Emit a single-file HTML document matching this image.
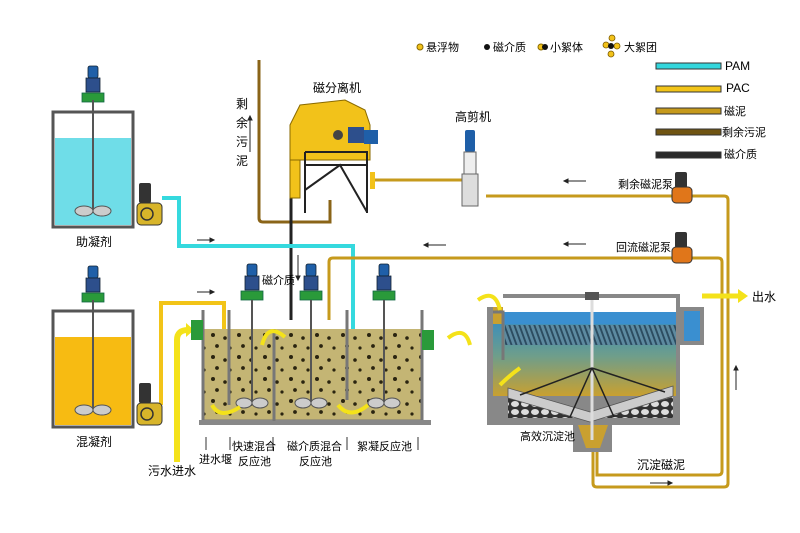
<!DOCTYPE html>
<html><head><meta charset="utf-8"><style>
html,body{margin:0;padding:0;background:#fff;}
svg{display:block;font-family:"Liberation Sans","Noto Sans CJK SC",sans-serif;}
</style></head><body>
<svg width="800" height="533" viewBox="0 0 800 533" xmlns="http://www.w3.org/2000/svg">
<defs>
<linearGradient id="sed" x1="0" y1="0" x2="0" y2="1">
<stop offset="0" stop-color="#3f8fb8"/><stop offset="0.45" stop-color="#6f9e8a"/><stop offset="1" stop-color="#c9a030"/>
</linearGradient>
<pattern id="dots" width="26" height="22" patternUnits="userSpaceOnUse">
<rect width="26" height="22" fill="#c4b574"/>
<circle cx="5" cy="5" r="2" fill="#2a2410"/><circle cx="17" cy="8" r="1.8" fill="#2a2410"/>
<circle cx="9" cy="16" r="1.9" fill="#2a2410"/><circle cx="22" cy="18" r="1.6" fill="#2a2410"/>
</pattern>
<pattern id="hatch" width="5" height="20" patternUnits="userSpaceOnUse" patternTransform="skewX(20)">
<rect width="5" height="20" fill="#5d8aa0"/><rect width="2" height="20" fill="#2c4c60"/>
</pattern>
<pattern id="grav" width="10" height="8" patternUnits="userSpaceOnUse">
<rect width="10" height="8" fill="#333"/><ellipse cx="5" cy="4" rx="4" ry="3" fill="#ddd"/>
</pattern>
<g id="motor">
<rect x="-5" y="0" width="10" height="12" rx="2" fill="#1f5fa8" stroke="#123" stroke-width="0.8"/>
<rect x="-7" y="12" width="14" height="14" fill="#2d4f8c" stroke="#123" stroke-width="0.8"/>
<rect x="-11" y="27" width="22" height="9" fill="#2a9a3a" stroke="#164" stroke-width="0.8"/>
</g>
<g id="pump">
<rect x="0" y="0" width="12" height="20" rx="2" fill="#333"/>
<rect x="-2" y="20" width="25" height="22" rx="4" fill="#d8b52a" stroke="#333" stroke-width="1"/>
<circle cx="8" cy="31" r="6" fill="none" stroke="#333" stroke-width="1.5"/>
</g>
</defs>

<!-- legend dots -->
<circle cx="420" cy="47" r="3" fill="#f2c21a" stroke="#8a6a00"/>
<text x="426" y="51" font-size="11">悬浮物</text>
<circle cx="487" cy="47" r="3" fill="#111"/>
<text x="493" y="51" font-size="11">磁介质</text>
<circle cx="541" cy="47" r="3" fill="#f2c21a" stroke="#8a6a00"/><circle cx="545" cy="47" r="3" fill="#111"/>
<text x="550" y="51" font-size="11">小絮体</text>
<g fill="#f2c21a" stroke="#7a5a00" stroke-width="0.8">
<circle cx="612" cy="38" r="3"/><circle cx="606" cy="45" r="3"/><circle cx="617" cy="46" r="3"/><circle cx="611" cy="54" r="3"/>
</g><circle cx="611" cy="46" r="3" fill="#111"/>
<text x="624" y="51" font-size="11">大絮团</text>
<g stroke="#333" stroke-width="1">
<rect x="656" y="63" width="65" height="6" fill="#33d6dc"/>
<rect x="656" y="86" width="65" height="6" fill="#f2c418"/>
<rect x="656" y="108" width="65" height="6" fill="#c69a1c"/>
<rect x="656" y="129" width="65" height="6" fill="#6f5412"/>
<rect x="656" y="152" width="65" height="6" fill="#2a2a2a"/>
</g>
<text x="725" y="70" font-size="12">PAM</text>
<text x="726" y="92" font-size="12">PAC</text>
<text x="724" y="115" font-size="11">磁泥</text>
<text x="722" y="136" font-size="11">剩余污泥</text>
<text x="724" y="158" font-size="11">磁介质</text>

<!-- pipes -->
<path d="M259 60 V218 Q259 222 263 222 H330 V200" fill="none" stroke="#8a6418" stroke-width="3"/>
<path d="M291 195 V320" stroke="#222" stroke-width="3" fill="none"/>
<path d="M162 198 H179 V246 H353 V398" fill="none" stroke="#35d9de" stroke-width="4"/>
<path d="M161 405 V303 H224 V400" fill="none" stroke="#f2c418" stroke-width="4"/>
<path d="M329 320 V262 Q329 258 333 258 H718 Q722 258 722 262 V471 Q722 475 718 475 H597 V452" fill="none" stroke="#c69a1c" stroke-width="3"/>
<path d="M486 196 H724 Q728 196 728 200 V483 Q728 487 724 487 H597 Q593 487 593 483 V452" fill="none" stroke="#c69a1c" stroke-width="3"/>
<path d="M375 180 H463" stroke="#c69a1c" stroke-width="3"/>

<!-- small arrows -->
<g stroke="#222" stroke-width="1" fill="#222">
<path d="M197 240 H212"/><path d="M214 240 l-4 -2 v4z"/>
<path d="M197 292 H212"/><path d="M214 292 l-4 -2 v4z"/>
<path d="M566 181 H586"/><path d="M564 181 l4 -2 v4z"/>
<path d="M426 245 H446"/><path d="M424 245 l4 -2 v4z"/>
<path d="M566 244 H586"/><path d="M564 244 l4 -2 v4z"/>
<path d="M736 368 V390"/><path d="M736 366 l-2 4 h4z"/>
<path d="M650 483 H670"/><path d="M672 483 l-4 -2 v4z"/>
<path d="M250 118 V152"/><path d="M250 116 l-2 4 h4z"/>
<path d="M298 255 V278"/><path d="M298 280 l-2 -4 h4z"/>
</g>

<!-- tank 1 -->
<rect x="53" y="112" width="80" height="115" fill="#fff" stroke="#555" stroke-width="3"/>
<rect x="55" y="138" width="76" height="87" fill="#6fdde8"/>
<use href="#motor" x="93" y="66"/>
<line x1="93" y1="100" x2="93" y2="212" stroke="#555" stroke-width="2"/>
<ellipse cx="84" cy="211" rx="9" ry="5" fill="#ccc" stroke="#555"/><ellipse cx="102" cy="211" rx="9" ry="5" fill="#ccc" stroke="#555"/>
<use href="#pump" x="139" y="183"/>
<text x="76" y="246" font-size="12">助凝剂</text>

<!-- tank 2 -->
<rect x="53" y="311" width="80" height="116" fill="#fff" stroke="#555" stroke-width="3"/>
<rect x="55" y="337" width="76" height="88" fill="#f7bb12"/>
<use href="#motor" x="93" y="266"/>
<line x1="93" y1="300" x2="93" y2="410" stroke="#555" stroke-width="2"/>
<ellipse cx="84" cy="410" rx="9" ry="5" fill="#ccc" stroke="#555"/><ellipse cx="102" cy="410" rx="9" ry="5" fill="#ccc" stroke="#555"/>
<use href="#pump" x="139" y="383"/>
<text x="76" y="446" font-size="12">混凝剂</text>

<!-- inlet -->
<path d="M177 462 V340 Q177 330 188 330" fill="none" stroke="#f4e21a" stroke-width="6"/>
<path d="M186 323 l8 7 l-8 7z" fill="#f4e21a"/>
<text x="148" y="475" font-size="12">污水进水</text>

<!-- reaction tank -->
<rect x="203" y="329" width="219" height="91" fill="url(#dots)"/>
<path d="M203 310 V421 H422 V310" fill="none" stroke="#777" stroke-width="3"/>
<rect x="199" y="420" width="232" height="5" fill="#888"/>
<line x1="229" y1="310" x2="229" y2="405" stroke="#777" stroke-width="3"/>
<line x1="274" y1="329" x2="274" y2="421" stroke="#777" stroke-width="3"/>
<line x1="347" y1="310" x2="347" y2="400" stroke="#777" stroke-width="3"/>
<rect x="191" y="320" width="12" height="20" fill="#2a9a3a"/>
<rect x="422" y="330" width="12" height="20" fill="#2a9a3a"/>
<g>
<use href="#motor" x="252" y="264"/><line x1="252" y1="300" x2="252" y2="404" stroke="#555" stroke-width="2"/>
<ellipse cx="244" cy="403" rx="8" ry="5" fill="#ccc" stroke="#555"/><ellipse cx="260" cy="403" rx="8" ry="5" fill="#ccc" stroke="#555"/>
<use href="#motor" x="311" y="264"/><line x1="311" y1="300" x2="311" y2="404" stroke="#555" stroke-width="2"/>
<ellipse cx="303" cy="403" rx="8" ry="5" fill="#ccc" stroke="#555"/><ellipse cx="319" cy="403" rx="8" ry="5" fill="#ccc" stroke="#555"/>
<use href="#motor" x="384" y="264"/><line x1="384" y1="300" x2="384" y2="404" stroke="#555" stroke-width="2"/>
<ellipse cx="376" cy="403" rx="8" ry="5" fill="#ccc" stroke="#555"/><ellipse cx="392" cy="403" rx="8" ry="5" fill="#ccc" stroke="#555"/>
</g>
<g fill="none" stroke="#f4e21a" stroke-width="4">
<path d="M212 405 Q220 420 240 407"/><path d="M262 345 Q268 322 285 337"/><path d="M338 405 Q350 420 368 405"/>
</g>
<text x="262" y="284" font-size="11">磁介质</text>
<g stroke="#333" fill="none"><path d="M206 450 V437 M230 450 V437 M273 450 V437 M347 450 V437 M418 450 V437"/></g>
<text x="199" y="463" font-size="11">进水堰</text>
<text x="232" y="450" font-size="11">快速混合</text><text x="238" y="465" font-size="11">反应池</text>
<text x="287" y="450" font-size="11">磁介质混合</text><text x="299" y="465" font-size="11">反应池</text>
<text x="357" y="450" font-size="11">絮凝反应池</text>

<!-- sedimentation tank -->
<path d="M487 307 H503 V294 H680 V307 H704 V345 H680 V425 H612 V452 H573 V425 H487Z" fill="#888"/>
<path d="M493 307 H503 V395 H493Z" fill="#c9a030"/>
<rect x="503" y="298" width="173" height="14" fill="#fff"/>
<rect x="503" y="312" width="173" height="12" fill="#3a8fd0"/>
<rect x="684" y="311" width="16" height="30" fill="#3a8fd0"/>
<rect x="493" y="324" width="183" height="72" fill="url(#sed)"/>
<rect x="505" y="325" width="171" height="20" fill="url(#hatch)"/>
<path d="M493 312 H503 V360" stroke="#777" stroke-width="3" fill="none"/>
<path d="M508 398 L590 420 L673 397 V418 H508Z" fill="url(#grav)"/>
<path d="M508 388 L590 412 L673 386 L673 396 L590 422 L508 398Z" fill="#ccc" stroke="#555" stroke-width="0.8"/>
<path d="M578 425 H608 L600 448 H586Z" fill="#c9a030"/>
<line x1="592" y1="300" x2="592" y2="440" stroke="#ddd" stroke-width="3"/>
<rect x="585" y="292" width="14" height="8" fill="#555"/>
<g stroke="#222" stroke-width="1.5" fill="none"><path d="M592 368 L520 395 M592 368 L665 392 M592 368 L570 417 M592 368 L614 417"/></g>
<path d="M702 296 H740" stroke="#f4e21a" stroke-width="5"/>
<path d="M738 289 l10 7 l-10 7z" fill="#f4e21a"/>
<text x="752" y="301" font-size="12">出水</text>
<path d="M448 338 Q465 325 470 345" fill="none" stroke="#f4e21a" stroke-width="4"/>
<path d="M478 300 Q495 288 500 310" fill="none" stroke="#f4e21a" stroke-width="4"/>
<path d="M500 385 Q510 375 520 368" fill="none" stroke="#f4e21a" stroke-width="4"/>
<text x="520" y="440" font-size="11">高效沉淀池</text>
<text x="637" y="469" font-size="12">沉淀磁泥</text>

<!-- magnetic separator -->
<path d="M290 125 L300 105 L345 100 L365 110 L370 125 V160 H290Z" fill="#f2c21a" stroke="#8a6a00"/>
<rect x="290" y="160" width="10" height="38" fill="#f2c21a" stroke="#8a6a00"/>
<circle cx="338" cy="135" r="5" fill="#444"/>
<rect x="348" y="127" width="16" height="16" fill="#2d4f8c"/>
<rect x="364" y="130" width="14" height="14" fill="#1f5fa8"/>
<g stroke="#222" stroke-width="2" fill="none"><path d="M305 152 H368 M305 152 V213 M367 152 V213 M305 190 L340 165 L367 212 M305 165 H367"/></g>
<rect x="370" y="172" width="5" height="17" fill="#f2c21a"/>
<text x="313" y="92" font-size="12">磁分离机</text>
<g font-size="12"><text x="236" y="108">剩</text><text x="236" y="127">余</text><text x="236" y="146">污</text><text x="236" y="165">泥</text></g>

<!-- high shear -->
<rect x="465" y="130" width="10" height="22" rx="2" fill="#1f5fa8"/>
<rect x="464" y="152" width="12" height="22" fill="#eee" stroke="#666"/>
<rect x="462" y="174" width="16" height="32" fill="#ddd" stroke="#666"/>
<text x="455" y="121" font-size="12">高剪机</text>

<!-- pumps on loop -->
<rect x="675" y="172" width="12" height="16" rx="2" fill="#333"/>
<rect x="672" y="187" width="20" height="16" rx="4" fill="#e0761a" stroke="#333"/>
<text x="618" y="188" font-size="11">剩余磁泥泵</text>
<rect x="675" y="232" width="12" height="16" rx="2" fill="#333"/>
<rect x="672" y="247" width="20" height="16" rx="4" fill="#e0761a" stroke="#333"/>
<text x="616" y="251" font-size="11">回流磁泥泵</text>
</svg>
</body></html>
